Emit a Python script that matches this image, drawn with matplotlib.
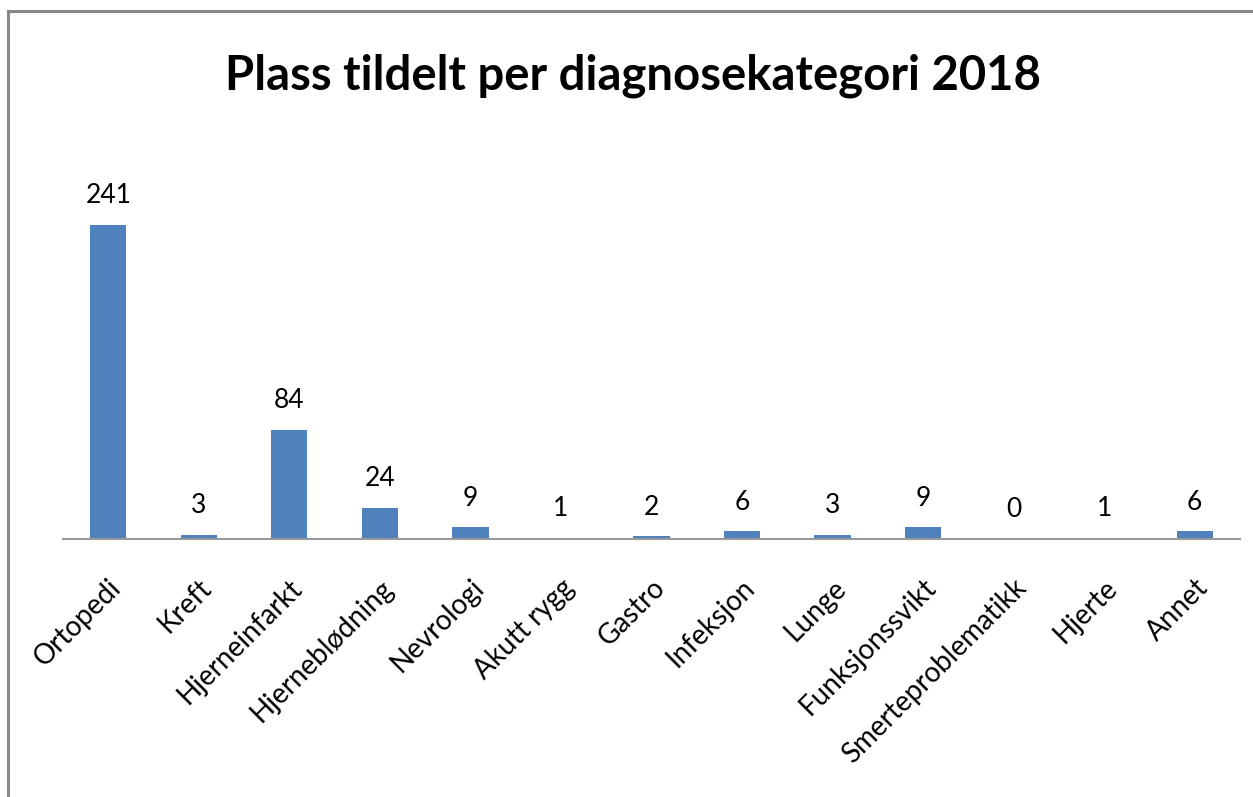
import matplotlib
matplotlib.use("Agg")
import matplotlib.pyplot as plt
from matplotlib.transforms import ScaledTranslation

categories = ["Ortopedi", "Kreft", "Hjerneinfarkt", "Hjerneblødning", "Nevrologi",
              "Akutt rygg", "Gastro", "Infeksjon", "Lunge", "Funksjonssvikt",
              "Smerteproblematikk", "Hjerte", "Annet"]
values = [241, 3, 84, 24, 9, 1, 2, 6, 3, 9, 0, 1, 6]
title = "Plass tildelt per diagnosekategori 2018"

W, H = 1253, 797
fig = plt.figure(figsize=(W / 100, H / 100), dpi=100)
fig.patch.set_facecolor("white")

# outer frame (left and top visible)
fig.add_artist(plt.Line2D([8 / W, 8 / W], [0, 1 - 11 / H], color="#888888", lw=2.2,
                          transform=fig.transFigure))
fig.add_artist(plt.Line2D([8 / W, 1], [1 - 11 / H, 1 - 11 / H], color="#888888", lw=2.2,
                          transform=fig.transFigure))

left, right = 63, 1240
top, bottom = 148, 539
ax = fig.add_axes([left / W, 1 - bottom / H, (right - left) / W, (bottom - top) / H])
ax.set_facecolor("none")

x = list(range(len(categories)))
ax.bar(x, values, width=0.4, color="#4F81BD", zorder=2)
ax.set_xlim(-0.5, len(categories) - 0.5)
ax.set_ylim(0, 300)

for s in ["top", "right", "left"]:
    ax.spines[s].set_visible(False)
ax.spines["bottom"].set_color("#999999")
ax.spines["bottom"].set_linewidth(1.5)
ax.set_yticks([])
ax.tick_params(axis="x", length=0, pad=30)

fam = ["Lato", "DejaVu Sans"]
ax.set_xticks(x)
ax.set_xticklabels(categories, rotation=45, ha="right", va="center",
                   rotation_mode="anchor", fontsize=20, family=fam)
offset = ScaledTranslation(9 / 100, -3 / 100, fig.dpi_scale_trans)
for lab in ax.get_xticklabels():
    lab.set_transform(lab.get_transform() + offset)

for xi, v in zip(x, values):
    ax.annotate(str(v), (xi, v), xytext=(0, 12), textcoords="offset points",
                ha="center", va="bottom", fontsize=19, family=fam)

fig.text(633 / W, 1 - 76 / H, title, ha="center", va="center",
         fontsize=34, fontweight="bold", family=fam)

fig.savefig("out.png", dpi=100)
